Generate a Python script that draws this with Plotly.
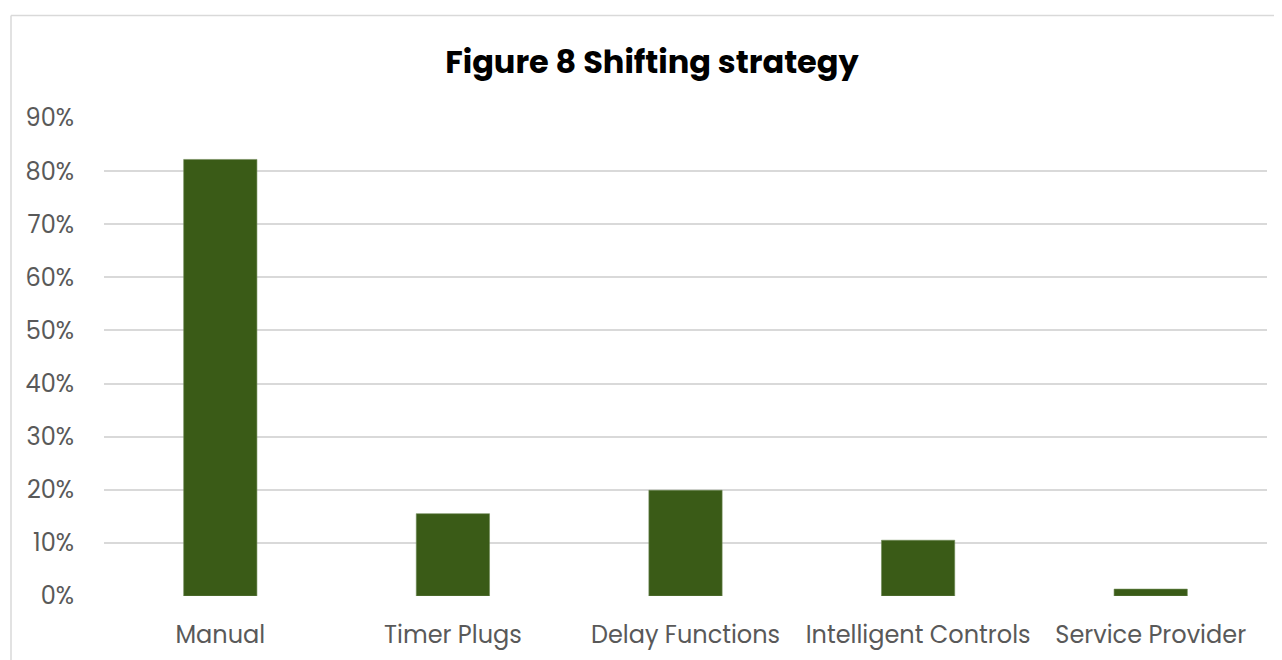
import plotly.graph_objects as go

categories = ["Manual", "Timer Plugs", "Delay Functions", "Intelligent Controls", "Service Provider"]
values = [0.822, 0.155, 0.199, 0.105, 0.013]
tick_vals = [0, 0.1, 0.2, 0.3, 0.4, 0.5, 0.6, 0.7, 0.8, 0.9]
tick_text = ["0%", "10%", "20%", "30%", "40%", "50%", "60%", "70%", "80%", "90%"]
title_text = "Figure 8 Shifting strategy"

W, H = 1282, 660
OFF = 8  # page body margin
ML, MR, MT, MB = 104 - OFF, W - (1267 - OFF), 118 - OFF, H - (596 - OFF)
PW = W - ML - MR
PH = H - MT - MB

def px_x(p):
    return (p - OFF - ML) / PW

def px_y(p):
    return (H - MB - (p - OFF)) / PH

fig = go.Figure()
fig.add_trace(go.Bar(
    x=categories, y=values,
    marker=dict(color="#3A5B17", line=dict(color="#6F8A55", width=0.6)),
    width=0.315,
    hoverinfo="x+y",
))

font_family = "Poppins, Inter, 'Open Sans', sans-serif"

fig.update_layout(
    width=W, height=H,
    margin=dict(l=ML, r=MR, t=MT, b=MB),
    paper_bgcolor="white", plot_bgcolor="white",
    showlegend=False,
    title=dict(
        text="<b>" + title_text + "</b>",
        x=(652 - OFF) / W, xref="container", xanchor="center",
        y=1 - (62 - OFF) / H, yref="container", yanchor="middle",
        font=dict(family=font_family, size=32, color="#000000"),
    ),
    xaxis=dict(
        showgrid=False, zeroline=False, showline=False,
        tickfont=dict(family=font_family, size=24, color="#595959"),
        ticks="", ticklabelstandoff=22,
    ),
    yaxis=dict(
        range=[0, 0.9], tickvals=tick_vals, ticktext=tick_text,
        showgrid=True, gridcolor="#D9D9D9", gridwidth=1.5,
        zeroline=False, showline=False, ticks="",
        tickfont=dict(family=font_family, size=24, color="#595959"),
        ticklabelstandoff=29,
    ),
    shapes=[
        dict(type="line", xref="paper", yref="paper",
             x0=px_x(11), x1=px_x(W + 20), y0=px_y(15.5), y1=px_y(15.5),
             line=dict(color="#D9D9D9", width=1.5)),
        dict(type="line", xref="paper", yref="paper",
             x0=px_x(11), x1=px_x(11), y0=px_y(15.5), y1=px_y(H + 20),
             line=dict(color="#D9D9D9", width=1.5)),
    ],
)

fig.write_html("out.html")
